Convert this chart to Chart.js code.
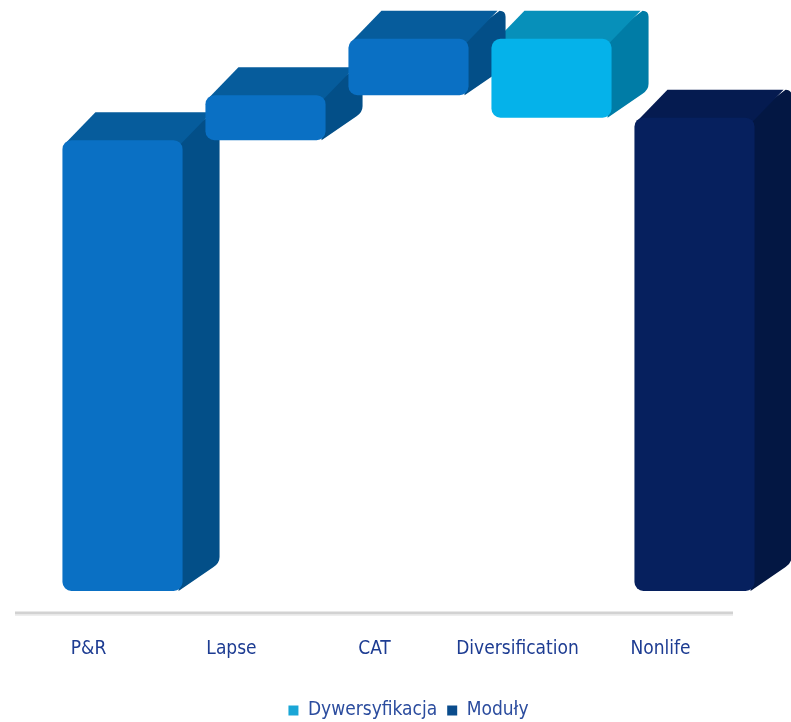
<!DOCTYPE html>
<html>
<head>
<meta charset="utf-8">
<script src="https://cdn.jsdelivr.net/npm/chart.js@4"></script>
<style>
  html, body { margin: 0; padding: 0; background: #fff; }
  #wrap { width: 791px; height: 722px; }
</style>
</head>
<body>
<div id="wrap"><canvas id="myChart" width="791" height="722"></canvas></div>
<script>
// waterfall values (floating bars: [start, end])
const categories = ['P&R', 'Lapse', 'CAT', 'Diversification', 'Nonlife'];
const modulesData = [[0, 100], [100, 110], [110, 122.5], null, [0, 105]];
const diversData = [null, null, null, [105, 122.5], null];

const moduleFront = ['#0a70c4', '#0a70c4', '#0a70c4', '#0a70c4', '#06205e'];
const moduleSide = ['#034f88', '#034f88', '#034f88', '#034f88', '#031743'];
const moduleTop = ['#065c9c', '#065c9c', '#065c9c', '#065c9c', '#051b50'];
const diversFront = '#05b2ea';
const diversSide = '#007ca6';
const diversTop = '#0790ba';

const FONT = "'Liberation Sans Narrow', 'DejaVu Sans Condensed', 'Arial Narrow', sans-serif";
const DX = 37, DY = 28;

// draws the side and top faces behind each bar to fake the 3D look
const depthFaces = {
    id: 'depthFaces',
    beforeDatasetsDraw(chart) {
        const ctx = chart.ctx;
        chart.data.datasets.forEach((ds, di) => {
            const meta = chart.getDatasetMeta(di);
            meta.data.forEach((bar, i) => {
                if (ds.data[i] == null) return;
                const left = bar.x - bar.width / 2, right = bar.x + bar.width / 2;
                const top = Math.min(bar.y, bar.base), bottom = Math.max(bar.y, bar.base);
                const side = Array.isArray(ds.sideColor) ? ds.sideColor[i] : ds.sideColor;
                const topc = Array.isArray(ds.topColor) ? ds.topColor[i] : ds.topColor;
                ctx.save();
                ctx.fillStyle = side;
                ctx.beginPath();
                ctx.moveTo(right - 6, top);
                ctx.lineTo(right + DX - 6, top - DY);
                ctx.quadraticCurveTo(right + DX, top - DY, right + DX, top - DY + 6);
                ctx.lineTo(right + DX, bottom - DY - 6);
                ctx.quadraticCurveTo(right + DX, bottom - DY, right + DX - 6, bottom - DY + 4);
                ctx.lineTo(right - 4, bottom);
                ctx.closePath();
                ctx.fill();
                ctx.fillStyle = topc;
                ctx.beginPath();
                ctx.moveTo(left + 2, top + 4);
                ctx.lineTo(left + DX - 4, top - DY);
                ctx.lineTo(right + DX - 8, top - DY);
                ctx.lineTo(right - 2, top + 4);
                ctx.closePath();
                ctx.fill();
                ctx.restore();
            });
        });
    },
    afterDraw(chart) {
        const ctx = chart.ctx, a = chart.chartArea;
        const y = a.bottom + 22;
        ctx.save();
        ctx.strokeStyle = '#d2d2d2';
        ctx.lineWidth = 3;
        ctx.beginPath();
        ctx.moveTo(a.left - 36, y);
        ctx.lineTo(a.right - 33, y);
        ctx.stroke();
        ctx.strokeStyle = '#eeeeee';
        ctx.lineWidth = 1;
        ctx.beginPath();
        ctx.moveTo(a.left - 36, y + 2.5);
        ctx.lineTo(a.right - 33, y + 2.5);
        ctx.stroke();
        ctx.restore();
    }
};

const ctx = document.getElementById('myChart').getContext('2d');
new Chart(ctx, {
    type: 'bar',
    data: {
        labels: categories,
        datasets: [{
            label: 'Dywersyfikacja',
            data: diversData,
            backgroundColor: diversFront,
            sideColor: diversSide,
            topColor: diversTop,
            legendColor: '#1aa6d6',
            borderRadius: 9,
            borderSkipped: false,
            grouped: false
        }, {
            label: 'Moduły',
            data: modulesData,
            backgroundColor: moduleFront,
            sideColor: moduleSide,
            topColor: moduleTop,
            legendColor: '#0a4c8c',
            borderRadius: 9,
            borderSkipped: false,
            grouped: false
        }]
    },
    options: {
        responsive: false,
        animation: false,
        layout: { padding: { left: 51, right: 25, top: 5, bottom: -8 } },
        datasets: { bar: { barPercentage: 0.84, categoryPercentage: 1 } },
        scales: {
            x: {
                grid: { display: false },
                border: { display: false },
                ticks: {
                    color: '#1d3c92',
                    padding: 39,
                    labelOffset: -34,
                    font: { family: FONT, size: 19 }
                },
                afterFit(scale) { scale.height = 100; }
            },
            y: {
                display: false,
                min: 0,
                max: 130
            }
        },
        plugins: {
            tooltip: { enabled: false },
            legend: {
                position: 'bottom',
                labels: {
                    boxWidth: 10,
                    boxHeight: 10,
                    padding: 10,
                    color: '#2b4c9e',
                    font: { family: FONT, size: 19 },
                    generateLabels(chart) {
                        return chart.data.datasets.map((ds, i) => ({
                            text: ds.label,
                            fillStyle: ds.legendColor,
                            strokeStyle: '#ffffff',
                            lineWidth: 0,
                            fontColor: '#2b4c9e',
                            datasetIndex: i
                        }));
                    }
                }
            }
        }
    },
    plugins: [depthFaces]
});
</script>
</body>
</html>
